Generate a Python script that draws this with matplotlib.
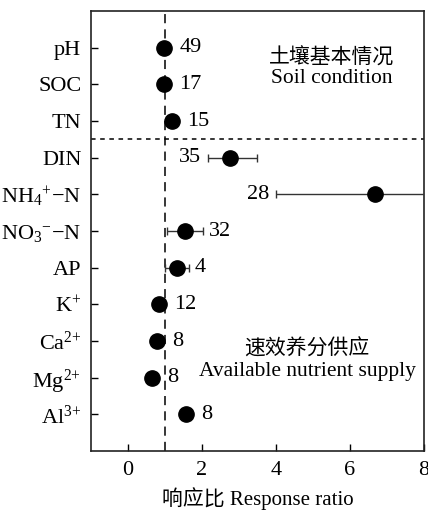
import numpy as np
import matplotlib
matplotlib.use('Agg')
import matplotlib.pyplot as plt

plt.rcParams['font.family'] = ['Liberation Serif', 'Noto Sans CJK SC']
plt.rcParams['mathtext.fontset'] = 'custom'
plt.rcParams['mathtext.rm'] = 'Liberation Serif'
plt.rcParams['mathtext.it'] = 'Liberation Serif:italic'
plt.rcParams['mathtext.default'] = 'rm'

# Datos
variables = ['pH', 'SOC', 'TN', 'DIN', r'NH$_{4}$$^{+}$−N', r'NO$_{3}$$^{-}$−N', 'AP',
             r'K$^{+}$', r'Ca$^{2{+}}$', r'Mg$^{2{+}}$', r'Al$^{3{+}}$']
ratio = [0.97, 0.96, 1.19, 2.76, 6.68, 1.54, 1.32, 0.84, 0.79, 0.65, 1.57]
ci_bajo = [0.93, 0.92, 1.12, 2.16, 4.00, 1.05, 1.00, 0.80, 0.75, 0.60, 1.50]
ci_alto = [1.01, 1.00, 1.26, 3.49, 9.50, 2.03, 1.65, 0.88, 0.83, 0.70, 1.64]
n_obs = [49, 17, 15, 35, 28, 32, 4, 12, 8, 8, 8]
etiqueta_izq = ['DIN', r'NH$_{4}$$^{+}$−N']

y = np.arange(len(variables))
ratio = np.array(ratio)
err = [ratio - np.array(ci_bajo), np.array(ci_alto) - ratio]

fig = plt.figure(figsize=(4.28, 5.12), dpi=100)
ax = fig.add_axes([0.2126, 0.1191, 0.7781, 0.8594])

ax.errorbar(ratio, y, xerr=err, fmt='o', color='black', ms=11,
            elinewidth=1, capsize=3, capthick=1, ecolor='#333333', zorder=3)

ax.axvline(1, color='black', ls=(0, (6, 4)), lw=1.1, zorder=1)
ax.axhline(2.5, color='black', ls=(0, (3, 3)), lw=1.1, zorder=1)

for i, v in enumerate(variables):
    if v in etiqueta_izq:
        ax.annotate(str(n_obs[i]), (ci_bajo[i], y[i]), xytext=(-5, 0),
                    textcoords='offset points', ha='right', va='center', fontsize=16)
    elif ci_alto[i] - ratio[i] > 0.2:
        ax.annotate(str(n_obs[i]), (ci_alto[i], y[i]), xytext=(4, 0),
                    textcoords='offset points', ha='left', va='center', fontsize=16)
    else:
        ax.annotate(str(n_obs[i]), (ratio[i], y[i]), xytext=(11, 0),
                    textcoords='offset points', ha='left', va='center', fontsize=16)

ax.text(5.5, 0.3, '土壤基本情况', ha='center', va='center', fontsize=15)
ax.text(5.5, 0.83, 'Soil condition', ha='center', va='center', fontsize=15.5)
ax.text(4.84, 8.23, '速效养分供应', ha='center', va='center', fontsize=15)
ax.text(4.84, 8.83, 'Available nutrient supply', ha='center', va='center', fontsize=15.5)

ax.set_xlim(-1, 8)
ax.set_ylim(11, -1)
ax.set_xticks([0, 2, 4, 6, 8])
ax.set_yticks(y)
ax.set_yticklabels(variables)
ax.tick_params(direction='in', length=5, width=1, labelsize=16, pad=7)
ax.set_xlabel('响应比 Response ratio', fontsize=15, labelpad=5)
for s in ax.spines.values():
    s.set_linewidth(1.2)
    s.set_color('#222222')

fig.savefig('out.png', dpi=100)
